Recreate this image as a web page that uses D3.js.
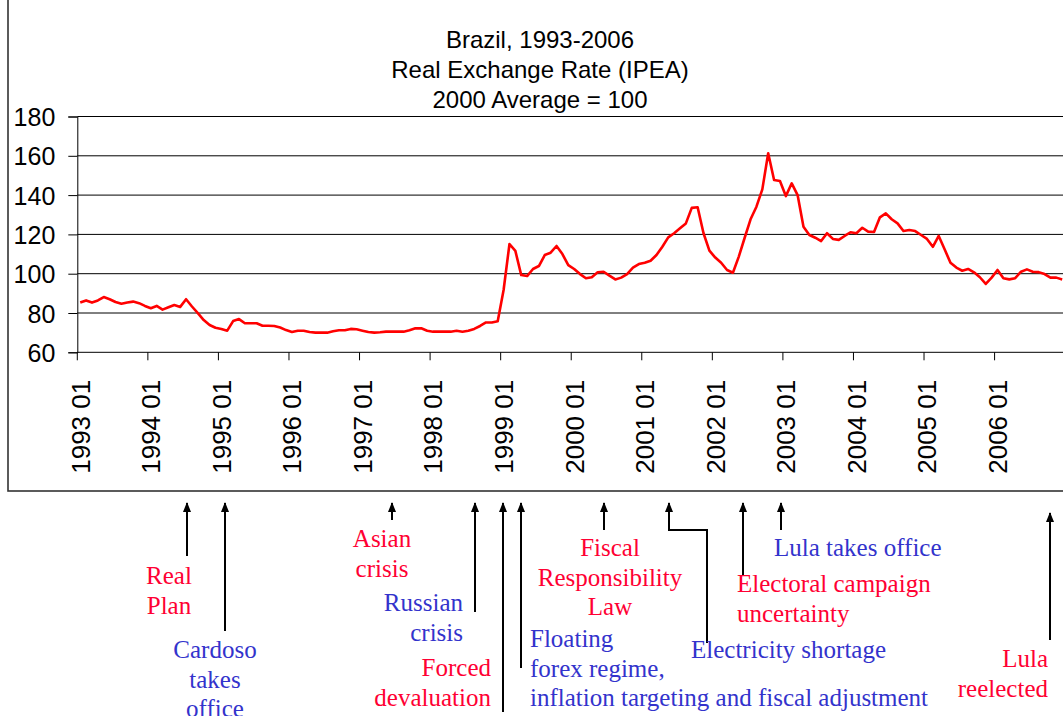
<!DOCTYPE html>
<html><head><meta charset="utf-8">
<script src="https://cdn.jsdelivr.net/npm/d3@7"></script>
<style>body{margin:0;background:#fff;} svg{display:block;}</style>
</head><body>
<script>
// ---------- data ----------
const titleLines = ["Brazil, 1993-2006", "Real Exchange Rate (IPEA)", "2000 Average = 100"];
const years = [1993,1994,1995,1996,1997,1998,1999,2000,2001,2002,2003,2004,2005,2006];
const yTicks = [60,80,100,120,140,160,180];
const rer1993 = [85.3,86.4,85.3,86.4,88.1,87.0,85.6,84.7,85.3,85.8,85.0,83.6];
const rer1994 = [82.4,83.6,81.7,82.9,84.1,83.1,87.0,83.3,79.9,76.4,73.9,72.5];
const rer1995 = [71.9,71.0,75.9,76.9,74.8,74.8,74.8,73.5,73.5,73.4,72.6,71.3];
const rer1996 = [70.3,71.0,71.0,70.3,70.0,70.0,70.0,70.7,71.2,71.2,71.9,71.7];
const rer1997 = [71.0,70.3,70.0,70.2,70.5,70.5,70.5,70.5,71.2,72.2,72.2,71.0];
const rer1998 = [70.5,70.5,70.5,70.5,71.0,70.5,71.0,71.9,73.4,75.2,75.2,75.8];
const rer1999 = [91.7,115.1,111.6,99.3,98.8,102.4,103.9,109.5,110.7,114.1,110.0,104.4];
const rer2000 = [102.4,99.8,97.7,98.2,100.7,101.0,99.0,97.1,98.0,99.8,103.1,104.9];
const rer2001 = [105.6,106.6,109.5,113.7,118.5,120.6,123.1,125.6,133.5,133.8,120.6,111.7];
const rer2002 = [108.2,105.6,101.9,100.5,108.7,118.3,127.7,134.1,142.9,161.3,147.7,147.2];
const rer2003 = [139.5,146.0,140.0,123.9,119.7,118.3,116.6,120.6,117.7,117.2,119.2,121.1];
const rer2004 = [120.6,123.4,121.4,121.2,128.7,130.7,127.7,125.6,121.7,122.2,121.7,119.7];
const rer2005 = [117.7,113.7,119.2,112.4,105.6,103.1,101.5,102.4,100.7,98.2,94.8,98.0];
const rer2006 = [101.9,97.7,97.1,97.7,101.0,102.2,101.0,100.8,99.8,98.0,98.0,97.1];

const events = [
  {id:"realPlan", lines:["Real","Plan"], kind:"red"},
  {id:"cardoso", lines:["Cardoso","takes","office"], kind:"blue"},
  {id:"asian", lines:["Asian","crisis"], kind:"red"},
  {id:"russian", lines:["Russian","crisis"], kind:"blue"},
  {id:"forced", lines:["Forced","devaluation"], kind:"red"},
  {id:"floating", lines:["Floating","forex regime,","inflation targeting and fiscal adjustment"], kind:"blue"},
  {id:"fiscal", lines:["Fiscal","Responsibility","Law"], kind:"red"},
  {id:"electricity", lines:["Electricity shortage"], kind:"blue"},
  {id:"electoral", lines:["Electoral campaign","uncertainty"], kind:"red"},
  {id:"lulaOffice", lines:["Lula takes office"], kind:"blue"},
  {id:"lulaRe", lines:["Lula","reelected"], kind:"red"}
];

// ---------- layout ----------
const W = 1063, H = 716;
const colors = {red:"#ff0033", blue:"#3333cc"};
const layout = {
  realPlan:   {arrow:[[187,556],[187,503]], tx:169, anchor:"middle", base:584},
  cardoso:    {arrow:[[225,631],[225,503]], tx:215, anchor:"middle", base:658},
  asian:      {arrow:[[392,520],[392,503]], tx:382, anchor:"middle", base:547},
  russian:    {arrow:[[475,612],[475,503]], tx:463, anchor:"end", base:611},
  forced:     {arrow:[[503,712],[503,503]], tx:491, anchor:"end", base:676},
  floating:   {arrow:[[521,668],[521,503]], tx:530, anchor:"start", base:647},
  fiscal:     {arrow:[[604,530],[604,503]], tx:610, anchor:"middle", base:556},
  electricity:{arrow:[[707,643],[707,530],[669,530],[669,503]], tx:691, anchor:"start", base:658},
  electoral:  {arrow:[[743,575],[743,503]], tx:737, anchor:"start", base:592},
  lulaOffice: {arrow:[[781,530],[781,503]], tx:774, anchor:"start", base:556},
  lulaRe:     {arrow:[[1050,640],[1050,513]], tx:1048, anchor:"end", base:667}
};
const lineH = 29.5;

const values = [].concat(rer1993,rer1994,rer1995,rer1996,rer1997,rer1998,rer1999,
                         rer2000,rer2001,rer2002,rer2003,rer2004,rer2005,rer2006);
const months = years.flatMap(y => d3.range(1,13).map(m => `${y} ${String(m).padStart(2,"0")}`));
const janMonths = months.filter(m => m.endsWith(" 01"));

const svg = d3.select("body").append("svg").attr("width", W).attr("height", H);
svg.append("rect").attr("width", W).attr("height", H).attr("fill", "#fff");

// frame
svg.append("rect").attr("x", 8).attr("y", -3).attr("width", W + 10).attr("height", 494)
  .attr("fill", "none").attr("stroke", "#333").attr("stroke-width", 1.6);

const x0 = 77.3, step = 5.88;
const x = d3.scaleBand().domain(months).range([x0, x0 + months.length * step]).padding(0);
const bw = x.bandwidth();
const y = d3.scaleLinear().domain([60, 180]).range([352.3, 116.5]);

// gridlines
svg.append("g").selectAll("line").data(yTicks.filter(t => t > 60)).join("line")
  .attr("x1", x0).attr("x2", W).attr("y1", d => y(d)).attr("y2", d => y(d))
  .attr("stroke", "#000").attr("stroke-width", 1);

// y axis
const gy = svg.append("g").attr("transform", `translate(${x0},0)`)
  .call(d3.axisLeft(y).tickValues(yTicks).tickSize(9).tickPadding(13).tickFormat(d3.format("d")));
gy.select(".domain").attr("stroke", "#000");
gy.selectAll(".tick line").attr("stroke", "#000");
gy.selectAll("text").attr("font-family", "'Liberation Sans', Arial, sans-serif")
  .attr("font-size", 25).attr("fill", "#000").attr("dy", "0.36em");

// x axis
const gx = svg.append("g").attr("transform", `translate(0,${y(60)})`)
  .call(d3.axisBottom(x).tickValues(janMonths).tickSize(8).tickSizeOuter(0));
gx.select(".domain").attr("stroke", "#000").attr("d", `M${x0},0H${W}`);
gx.selectAll(".tick line").attr("stroke", "#000").attr("x1", -bw/2).attr("x2", -bw/2);
gx.selectAll("text").attr("font-family", "'Liberation Sans', Arial, sans-serif")
  .attr("font-size", 26).attr("fill", "#000")
  .attr("transform", "rotate(-90)").attr("x", -27.5).attr("y", 0).attr("dy", "0.36em")
  .style("text-anchor", "end");

// line
svg.append("path").datum(values)
  .attr("fill", "none").attr("stroke", "#ff0000").attr("stroke-width", 2.6)
  .attr("stroke-linejoin", "round")
  .attr("d", d3.line().x((d, i) => x(months[i]) + bw / 2).y(d => y(d)));

// title
svg.append("g").selectAll("text").data(titleLines).join("text")
  .attr("x", 540).attr("y", (d, i) => 48 + i * 30)
  .attr("text-anchor", "middle")
  .attr("font-family", "'Liberation Sans', Arial, sans-serif").attr("font-size", 24)
  .attr("fill", "#000").text(d => d);

// arrows
const defs = svg.append("defs");
defs.append("marker").attr("id", "ah").attr("viewBox", "0 0 10 10")
  .attr("refX", 9).attr("refY", 5).attr("markerWidth", 10).attr("markerHeight", 10)
  .attr("markerUnits", "userSpaceOnUse").attr("orient", "auto")
  .append("path").attr("d", "M0,1 L10,5 L0,9 Z").attr("fill", "#000");

const ag = svg.append("g");
events.forEach(ev => {
  const L = layout[ev.id];
  ag.append("path").attr("d", d3.line()(L.arrow))
    .attr("fill", "none").attr("stroke", "#000").attr("stroke-width", 2)
    .attr("marker-end", "url(#ah)");
  const t = ag.append("text").attr("text-anchor", L.anchor)
    .attr("font-family", "'Liberation Serif', 'Times New Roman', serif").attr("font-size", 25)
    .attr("fill", colors[ev.kind]);
  ev.lines.forEach((ln, i) => {
    t.append("tspan").attr("x", L.tx).attr("y", L.base + i * lineH).text(ln);
  });
});
</script>
</body></html>
